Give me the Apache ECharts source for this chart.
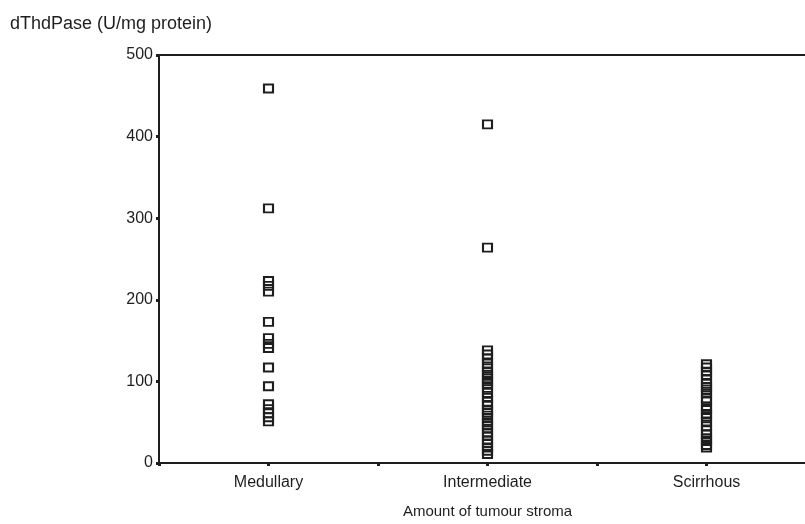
<!DOCTYPE html>
<html>
<head>
<meta charset="utf-8">
<script src="https://cdn.jsdelivr.net/npm/echarts@6/dist/echarts.min.js"></script>
<style>
  html, body { margin: 0; padding: 0; background: #fff; }
  #main { width: 805px; height: 524px; }
</style>
</head>
<body>
<div id="main"></div>
<script>
// groups on the x axis
const categories = ['Medullary', 'Intermediate', 'Scirrhous'];

// dThdPase values, one list per group
const medullary = [459, 312, 223, 217, 210, 173, 153, 146, 141, 117, 94, 72, 66, 61, 56, 51];
const intermediate = [415, 264, 138, 133, 128, 122, 116, 111, 108, 104, 100, 97, 92, 86, 80, 75, 71, 65, 62, 58, 55, 50, 46, 42, 37, 33, 28, 24, 19, 15, 11];
const scirrhous = [121, 117, 112, 108, 103, 97, 93, 90, 85, 79, 76, 69, 65, 60, 57, 51, 45, 40, 35, 30, 27, 22, 19];

const yTicks = [0, 100, 200, 300, 400, 500];

const groups = [medullary, intermediate, scirrhous];
const font = 'Liberation Sans, Arial, sans-serif';
const ink = '#1e1e1e';

// each group sits in the middle of its band: index + 0.5
const points = [];
groups.forEach((vals, i) => {
  vals.forEach(v => points.push([i + 0.5, v]));
});

const chart = echarts.init(document.getElementById('main'));

const option = {
  backgroundColor: '#ffffff',
  animation: false,
  title: {
    text: 'dThdPase (U/mg protein)',
    left: 5,
    top: 10,
    textStyle: { fontFamily: font, fontSize: 18, fontWeight: 'normal', color: ink }
  },
  // plot runs past the right edge like the original, so no right frame line
  grid: { left: 159, top: 55, bottom: 61, width: 657, containLabel: false, outerBoundsMode: 'none' },
  xAxis: [{
    type: 'value',
    min: 0,
    max: categories.length,
    interval: 0.5,
    splitLine: { show: false },
    axisLine: { lineStyle: { color: ink, width: 2 } },
    axisTick: { length: 3, lineStyle: { color: ink, width: 3 } },
    axisLabel: {
      margin: 12,
      fontFamily: font,
      fontSize: 16,
      color: ink,
      formatter: v => {
        const k = v - 0.5;
        return Number.isInteger(k) && categories[k] ? categories[k] : '';
      }
    },
    name: 'Amount of tumour stroma',
    nameLocation: 'middle',
    nameGap: 41,
    nameMoveOverlap: false,
    nameTextStyle: { fontFamily: font, fontSize: 15, color: ink, verticalAlign: 'top' }
  }, {
    type: 'value',
    position: 'top',
    min: 0,
    max: categories.length,
    axisLine: { show: true, onZero: false, lineStyle: { color: ink, width: 2 } },
    axisTick: { show: false },
    axisLabel: { show: false },
    splitLine: { show: false }
  }],
  yAxis: {
    type: 'value',
    min: yTicks[0],
    max: yTicks[yTicks.length - 1],
    interval: 100,
    splitLine: { show: false },
    axisLine: { show: true, lineStyle: { color: ink, width: 2 } },
    axisTick: { show: true, length: 3, lineStyle: { color: ink, width: 3 } },
    axisLabel: { margin: 6, fontFamily: font, fontSize: 16, color: ink }
  },
  series: [{
    type: 'scatter',
    data: points,
    symbol: 'rect',
    symbolSize: [9, 8],
    itemStyle: { color: 'rgba(0,0,0,0)', borderColor: ink, borderWidth: 2, opacity: 1 }
  }]
};

chart.setOption(option);
</script>
</body>
</html>
